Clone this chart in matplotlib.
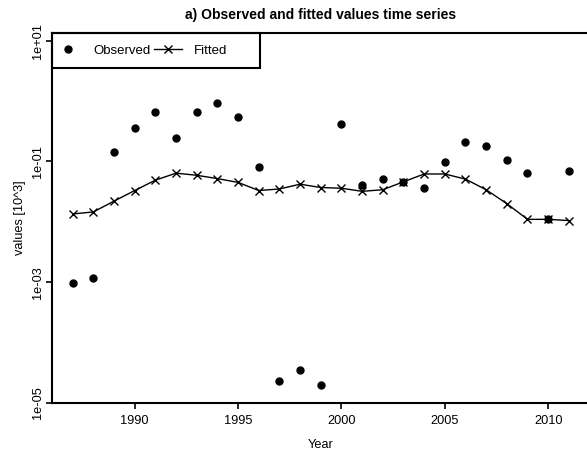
import matplotlib
matplotlib.use("Agg")
import matplotlib.pyplot as plt
from matplotlib.lines import Line2D
from matplotlib.patches import Rectangle

plt.rcParams['font.family'] = ['Liberation Sans', 'DejaVu Sans']

years = list(range(1987, 2012))
observed = [0.00096, 0.00118, 0.146, 0.36, 0.67, 0.24, 0.67, 0.94, 0.54, 0.080,
            2.3e-5, 3.5e-5, 2.0e-5, 0.41, 0.040, 0.052, 0.046, 0.037, 0.098, 0.206,
            0.18, 0.104, 0.064, 0.0113, 0.069]
fitted = [0.0135, 0.0146, 0.022, 0.033, 0.049, 0.064, 0.059, 0.052, 0.045, 0.033,
          0.035, 0.042, 0.037, 0.036, 0.032, 0.034, 0.046, 0.062, 0.062, 0.051,
          0.034, 0.020, 0.011, 0.011, 0.0105]
xticks = [1990, 1995, 2000, 2005, 2010]
yticks = [1e-5, 1e-3, 1e-1, 1e1]
ytick_labels = ["1e-05", "1e-03", "1e-01", "1e+01"]

W, H = 587, 457
fig = plt.figure(figsize=(W/100, H/100), dpi=100)
ax = fig.add_axes([52/W, 1-403/H, (589.5-52)/W, (403-33)/H])

ax.plot(years, fitted, color='black', lw=1.0, marker='x', ms=5.5, mew=1.0, label='Fitted')
ax.plot(years, observed, linestyle='none', marker='o', ms=5, color='black', label='Observed')

ax.set_yscale('log')
ax.set_xlim(1986, 2012)
ax.set_ylim(1e-5, 13.4)
ax.set_xticks(xticks)
ax.set_xticklabels([str(x) for x in xticks])
ax.set_yticks(yticks)
ax.set_yticklabels(ytick_labels, rotation=90, va='center')
ax.minorticks_off()
ax.tick_params(axis='both', direction='out', length=4, width=1.2, labelsize=9.2, colors='black')
ax.tick_params(axis='x', pad=5)
ax.tick_params(axis='y', pad=2)
for s in ax.spines.values():
    s.set_linewidth(1.5)

ax.set_xlabel('Year', fontsize=9.2, labelpad=8)
ax.set_ylabel('values [10^3]', fontsize=9.2, labelpad=4)
ax.set_title('a) Observed and fitted values time series', fontsize=10, fontweight='bold', pad=10)

h_obs = Line2D([], [], linestyle='none', marker='o', ms=5, color='black')
h_fit = Line2D([], [], color='black', lw=1.0, marker='x', ms=5.5, mew=1.0)
leg = fig.legend([h_obs, h_fit], ['Observed', 'Fitted'], ncol=2, loc='center left',
                 bbox_to_anchor=(54/W, 1-51/H), borderaxespad=0, borderpad=0,
                 frameon=False, fontsize=9.5, handlelength=2.12, handletextpad=0.9,
                 columnspacing=0.25)
fig.add_artist(Rectangle((52/W, 1-67.7/H), 208/W, 34.7/H, transform=fig.transFigure,
                         fill=False, lw=1.5, edgecolor='black'))

fig.savefig('out.png', dpi=100)
